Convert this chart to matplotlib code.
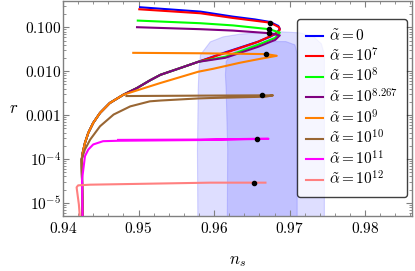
import numpy as np
import matplotlib
matplotlib.use("Agg")
import matplotlib.pyplot as plt

plt.rcParams['mathtext.fontset'] = 'cm'
plt.rcParams['font.family'] = 'serif'
plt.rcParams['font.serif'] = ['DejaVu Serif']

# shared low-r tail of the curves
tail_ns = [0.9579, 0.9555, 0.9529, 0.9515, 0.9498, 0.9480, 0.9462, 0.9449, 0.9440, 0.94335,
           0.94291, 0.94261, 0.94248, 0.94252, 0.94258, 0.9426]
tail_r = [0.0164, 0.0118, 0.0083, 6.18e-3, 4.15e-3, 2.92e-3, 1.89e-3, 1.12e-3, 6.65e-4, 3.94e-4,
          2.33e-4, 1.38e-4, 9.75e-5, 3.4e-5, 5.2e-6, 2e-6]

blue_ns = [0.9502, 0.9582, 0.9625, 0.9654, 0.9674, 0.9685, 0.9687, 0.9683, 0.9674, 0.9658, 0.9615]
blue_r = [0.288, 0.229, 0.176, 0.152, 0.133, 0.108, 0.0925, 0.075, 0.061, 0.047, 0.027]

red_ns = [0.9501, 0.9582, 0.9625, 0.9674, 0.9686, 0.9687, 0.9681, 0.9658, 0.9615]
red_r = [0.259, 0.21, 0.164, 0.1285, 0.101, 0.0877, 0.0711, 0.0468, 0.0263]

green_ns = [0.9499, 0.9582, 0.9625, 0.9673, 0.9687, 0.9681, 0.9658, 0.9615]
green_r = [0.143, 0.1245, 0.111, 0.091, 0.0762, 0.0577, 0.040, 0.0214]

purple_ns = [0.9498, 0.9582, 0.9625, 0.9673, 0.9687, 0.9681, 0.9658, 0.9615]
purple_r = [0.101, 0.091, 0.0846, 0.0738, 0.0658, 0.052, 0.036, 0.0203]

orange_ns = [0.9493, 0.9582, 0.9669, 0.9683, 0.9661, 0.9634, 0.9599, 0.9579, 0.9529, 0.9505]
orange_r = [0.0263, 0.0257, 0.0246, 0.0225, 0.0192, 0.0156, 0.0114, 0.00975, 0.0054, 0.0040]

brown_ns = [0.9484, 0.9582, 0.9664, 0.9678, 0.9668, 0.9595, 0.9579, 0.9529, 0.9515, 0.9489,
            0.9467, 0.9449, 0.9436, 0.9429]
brown_r = [0.00272, 0.00278, 0.00282, 0.00282, 0.00263, 0.00245, 0.00240, 0.00215, 0.00206, 0.00158,
           0.00103, 5.56e-4, 2.77e-4, 1.64e-4]

magenta_ns = [0.9473, 0.9582, 0.9657, 0.9672, 0.9582, 0.9473, 0.9453, 0.9440, 0.94335, 0.94291]
magenta_r = [2.72e-4, 2.77e-4, 2.88e-4, 2.88e-4, 2.70e-4, 2.60e-4, 2.54e-4, 2.14e-4, 1.64e-4, 1.16e-4]

pink_ns = [0.9424, 0.9421, 0.9418, 0.9420, 0.9436, 0.9515, 0.9595, 0.9653, 0.9668]
pink_r = [2e-6, 9.2e-6, 2.25e-5, 2.5e-5, 2.59e-5, 2.73e-5, 2.88e-5, 2.88e-5, 2.88e-5]

dot_ns = [0.9674, 0.9673, 0.9673, 0.9669, 0.9664, 0.9657, 0.9653]
dot_r = [0.1285, 0.091, 0.0738, 0.0246, 0.00282, 2.88e-4, 2.88e-5]

# Planck-like contours
light_ns = [0.9579, 0.9578, 0.9579, 0.9580, 0.9582, 0.9595, 0.9612, 0.9634, 0.9657, 0.9690,
            0.9714, 0.9732, 0.9742, 0.9746, 0.9746, 0.9746]
light_r = [1e-7, 1.6e-4, 3.8e-3, 0.0108, 0.0237, 0.0468, 0.0608, 0.070, 0.075, 0.079,
           0.075, 0.0608, 0.0422, 0.0237, 2.2e-3, 1e-7]
dark_ns = [0.9617, 0.9618, 0.9616, 0.9615, 0.9616, 0.9622, 0.9632, 0.9652, 0.9675, 0.9695, 0.9707, 0.9710, 0.9710]
dark_r = [1e-7, 1.6e-4, 3.8e-3, 0.0083, 0.0167, 0.0237, 0.0320, 0.0400, 0.0475, 0.0475, 0.040, 0.025, 1e-7]

labels = [r'$\tilde{\alpha}=0$', r'$\tilde{\alpha}=10^7$', r'$\tilde{\alpha}=10^8$',
          r'$\tilde{\alpha}=10^{8.267}$', r'$\tilde{\alpha}=10^9$', r'$\tilde{\alpha}=10^{10}$',
          r'$\tilde{\alpha}=10^{11}$', r'$\tilde{\alpha}=10^{12}$']
colors = ['#0000ff', '#ff0000', '#00ff00', '#800080', '#ff8000', '#996633', '#ff00ff', '#ff8080']

fig = plt.figure(figsize=(4.15, 2.71), dpi=100)
ax = fig.add_axes([63/415, 55/271, 349/415, 215/271])

ax.fill(light_ns, light_r, facecolor='#0000ff', alpha=0.13, edgecolor='none', zorder=1)
ax.plot(light_ns, light_r, color='#6060ff', alpha=0.25, lw=0.8, zorder=1)
ax.fill(dark_ns, dark_r, facecolor='#0000ff', alpha=0.13, edgecolor='none', zorder=1)
ax.plot(dark_ns, dark_r, color='#6060ff', alpha=0.25, lw=0.8, zorder=1)

curves = [
    (blue_ns + tail_ns, blue_r + tail_r),
    (red_ns + tail_ns, red_r + tail_r),
    (green_ns + tail_ns, green_r + tail_r),
    (purple_ns + tail_ns, purple_r + tail_r),
    (orange_ns + tail_ns[5:], orange_r + tail_r[5:]),
    (brown_ns + tail_ns[12:], brown_r + tail_r[12:]),
    (magenta_ns + tail_ns[13:], magenta_r + tail_r[13:]),
    (pink_ns, pink_r),
]
for (xs, ys), c, lab in zip(curves, colors, labels):
    ax.plot(xs, ys, color=c, lw=1.5, label=lab, zorder=3)

ax.plot(dot_ns, dot_r, 'o', color='black', ms=3, zorder=5)

ax.set_yscale('log')
ax.set_xlim(0.94, 0.9862)
ax.set_ylim(5e-6, 0.4)

ax.set_xticks([0.94, 0.95, 0.96, 0.97, 0.98])
ax.set_xticklabels([r'$0.94$', r'$0.95$', r'$0.96$', r'$0.97$', r'$0.98$'])
ax.set_xticks(np.arange(0.94, 0.987, 0.002), minor=True)
ax.set_yticks([1e-5, 1e-4, 1e-3, 1e-2, 1e-1])
ax.set_yticklabels([r'$10^{-5}$', r'$10^{-4}$', r'$0.001$', r'$0.010$', r'$0.100$'])

ax.tick_params(which='both', direction='in', top=True, right=True, color='#808080', labelsize=11)
ax.tick_params(which='major', length=4, width=0.8)
ax.tick_params(which='minor', length=2, width=0.6)
ax.tick_params(axis='y', which='major', pad=1.5)
for sp in ax.spines.values():
    sp.set_color('#808080')
    sp.set_linewidth(1)

ax.set_xlabel(r'$n_s$', fontsize=12, labelpad=11.5)
ax.set_ylabel(r'$r$', fontsize=12, rotation=0, labelpad=8, va='center')

leg = ax.legend(loc='upper right', bbox_to_anchor=(0.986, 0.916), borderaxespad=0,
                fontsize=11, handlelength=1.1, handletextpad=0.4, labelspacing=0.16,
                borderpad=0.6, frameon=True, fancybox=True, framealpha=0.75, edgecolor='black')
leg.get_frame().set_linewidth(1)

fig.savefig('out.png', dpi=100)
